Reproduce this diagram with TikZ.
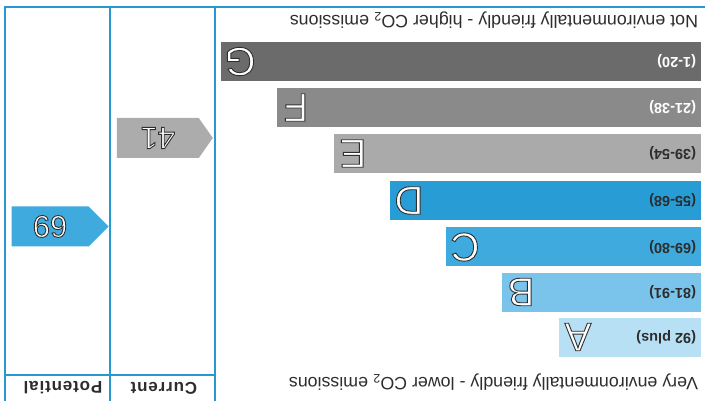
\documentclass[tikz,border=0pt]{standalone}
\usepackage{fontspec}
\setmainfont{Liberation Sans}
\usetikzlibrary{shapes.symbols}

\definecolor{frameblue}{RGB}{38,152,210}
\definecolor{barG}{RGB}{107,107,107}
\definecolor{barF}{RGB}{138,138,138}
\definecolor{barE}{RGB}{170,170,170}
\definecolor{barD}{RGB}{40,157,213}
\definecolor{barC}{RGB}{62,170,222}
\definecolor{barB}{RGB}{122,195,234}
\definecolor{barA}{RGB}{184,224,245}
\definecolor{arrowgray}{RGB}{172,172,172}
\definecolor{inkgray}{RGB}{45,45,45}

% white glyphs with a thin dark rim
\newcommand\rimmed[1]{\special{pdf:literal direct 2 Tr 0.9 w 0.18 0.18 0.18 RG}#1\special{pdf:literal direct 0 Tr}}

\tikzset{every picture/.style={line width=2pt}}

\begin{document}
\begin{tikzpicture}[x=1pt,y=1pt,yscale=-1,
  barbox/.style={rectangle,inner sep=0pt,minimum height=39pt,anchor=east},
  bandletter/.style={rotate=180,inner sep=0pt,text=white,font=\fontsize{40}{40}\selectfont},
  rangetext/.style={rotate=180,anchor=west,inner sep=0pt,font=\bfseries\fontsize{14.5}{14.5}\selectfont},
  captiontext/.style={rotate=180,anchor=west,inner sep=0pt,text=inkgray,font=\fontsize{17.8}{17.8}\selectfont},
  ratearrow/.style={signal,signal to=west,rotate=180,anchor=west,inner sep=0pt,minimum height=40pt,text=white,font=\fontsize{31}{31}\selectfont},
  headtext/.style={rotate=180,inner sep=0pt,text=inkgray,font=\bfseries\fontsize{17}{17}\selectfont\addfontfeature{LetterSpace=5}}]
\useasboundingbox (0,0) rectangle (705,401);

%Straight Lines
\draw [color=frameblue]   (4,7) -- (705,7) ;
%Straight Lines
\draw [color=frameblue]   (5,7) -- (5,401) ;
%Straight Lines
\draw [color=frameblue]   (110,7) -- (110,401) ;
%Straight Lines
\draw [color=frameblue]   (215,7) -- (215,401) ;
%Straight Lines
\draw [color=frameblue]   (5,375) -- (215,375) ;

%Shape: Bars
\node [barbox, fill=barG, minimum width=480] (barG) at (702,61.5) {};
\node [barbox, fill=barF, minimum width=424] (barF) at (702,107.5) {};
\node [barbox, fill=barE, minimum width=367] (barE) at (702,153.5) {};
\node [barbox, fill=barD, minimum width=311] (barD) at (702,200.5) {};
\node [barbox, fill=barC, minimum width=255] (barC) at (702,247) {};
\node [barbox, fill=barB, minimum width=199] (barB) at (702,292) {};
\node [barbox, fill=barA, minimum width=142] (barA) at (702,337) {};

% Text Node
\node [bandletter] (letterG) at ([xshift=20]barG.west) {\rimmed{G}};
\node [bandletter] (letterF) at ([xshift=20]barF.west) {\rimmed{F}};
\node [bandletter] (letterE) at ([xshift=20]barE.west) {\rimmed{E}};
\node [bandletter] (letterD) at ([xshift=20]barD.west) {\rimmed{D}};
\node [bandletter] (letterC) at ([xshift=20]barC.west) {\rimmed{C}};
\node [bandletter] (letterB) at ([xshift=20]barB.west) {\rimmed{B}};
\node [bandletter] (letterA) at ([xshift=20]barA.west) {\rimmed{A}};

% Text Node
\node [rangetext, text=white] (rangeG) at ([xshift=-5]barG.east) {(1-20)};
\node [rangetext, text=white] (rangeF) at ([xshift=-5]barF.east) {(21-38)};
\node [rangetext, text=inkgray] (rangeE) at ([xshift=-5]barE.east) {(39-54)};
\node [rangetext, text=inkgray] (rangeD) at ([xshift=-5]barD.east) {(55-68)};
\node [rangetext, text=inkgray] (rangeC) at ([xshift=-5]barC.east) {(69-80)};
\node [rangetext, text=inkgray] (rangeB) at ([xshift=-5]barB.east) {(81-91)};
\node [rangetext, text=inkgray] (rangeA) at ([xshift=-5]barA.east) {(92 plus)};

% Text Node
\node [captiontext] (worse) at (699,20) {Not environmentally friendly - higher CO\textsubscript{2} emissions};
% Text Node
\node [captiontext] (better) at (699,382) {Very environmentally friendly - lower CO\textsubscript{2} emissions};

%Shape: Signal
\node [ratearrow, fill=arrowgray, signal pointer angle=110, minimum width=96] (current) at (214,138) {\rimmed{41}};
%Shape: Signal
\node [ratearrow, fill=barC, signal pointer angle=90, minimum width=97] (potential) at (110,226.5) {\rimmed{69}};

% Text Node
\node [headtext] (currenthead) at (164,388) {Current};
% Text Node
\node [headtext] (potentialhead) at (63,388) {Potential};

\end{tikzpicture}
\end{document}
